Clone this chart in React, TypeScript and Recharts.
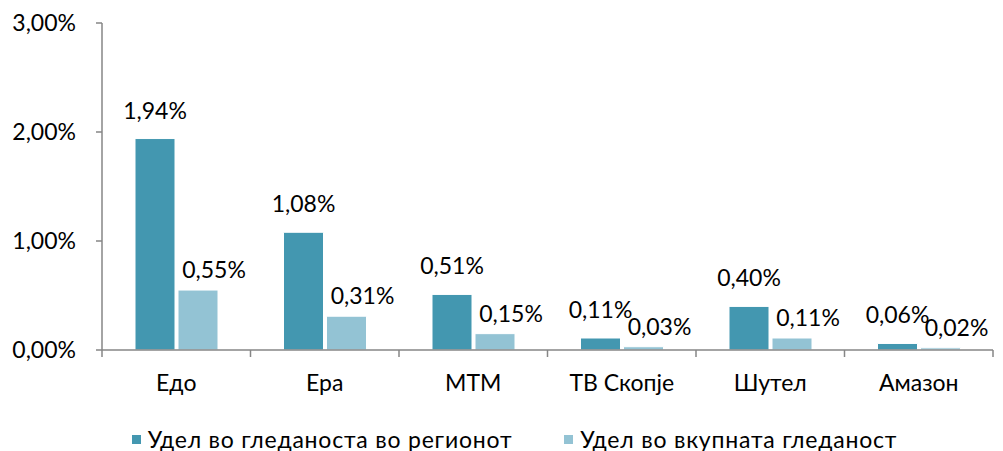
import React from 'react';
import { BarChart, Bar, XAxis, YAxis, Legend, LabelList } from 'recharts';

const categories = ['Едо', 'Ера', 'МТМ', 'ТВ Скопје', 'Шутел', 'Амазон'];
const regionShare = [1.94, 1.08, 0.51, 0.11, 0.4, 0.06];
const totalShare = [0.55, 0.31, 0.15, 0.03, 0.11, 0.02];
const seriesNames = ['Удел во гледаноста во регионот', 'Удел во вкупната гледаност'];
const yTicks = [0, 1, 2, 3];

const data = categories.map((c, i) => ({ name: c, region: regionShare[i], total: totalShare[i] }));

const W = 1003;
const H = 451;
const M = { top: 23, right: 10, left: 12, bottom: 0 };
const YW = 90;
const STEP = (W - M.left - M.right - YW) / categories.length;
const FONT = 'Lato, "Noto Sans", sans-serif';
const FS = 23;
const DARK = '#4397B0';
const LIGHT = '#93C3D4';
const AXIS = '#868686';

const fmt = (v: number) => v.toFixed(2).replace('.', ',') + '%';

const makeLabel = (dx: number, gap: number) => (props: any) => {
  const { x, y, width, value } = props;
  return (
    <text x={Number(x) + Number(width) / 2 + dx} y={Number(y) - gap} textAnchor="middle" fontSize={FS} fontFamily={FONT} fill="#000">
      {fmt(Number(value))}
    </text>
  );
};

const XTick = (props: any) => {
  const { x, y, payload, index } = props;
  return (
    <g>
      {index === 0 && <line x1={x - STEP / 2} x2={x - STEP / 2} y1={y} y2={y + 7} stroke={AXIS} strokeWidth={1.5} />}
      <line x1={x + STEP / 2} x2={x + STEP / 2} y1={y} y2={y + 7} stroke={AXIS} strokeWidth={1.5} />
      <text x={x} y={y + 41} textAnchor="middle" fontSize={FS} fontFamily={FONT} fill="#000">
        {payload.value}
      </text>
    </g>
  );
};

const LegendContent = () => (
  <div style={{ display: 'flex', justifyContent: 'center', paddingTop: 15, paddingLeft: 24, fontFamily: FONT, fontSize: FS, color: '#000', letterSpacing: 0.8 }}>
    {seriesNames.map((n, i) => (
      <div key={n} style={{ display: 'flex', alignItems: 'center', marginRight: i === 0 ? 52 : 0 }}>
        <span style={{ width: 9, height: 9, background: i === 0 ? DARK : LIGHT, display: 'inline-block', marginRight: 7 }} />
        <span>{n}</span>
      </div>
    ))}
  </div>
);

export default function App() {
  return (
    <div style={{ position: 'absolute', left: 0, top: 0, width: W, height: H, background: '#fff' }}>
      <BarChart width={W} height={H} data={data} margin={M} barSize={40} barGap={3}>
        <YAxis
          width={YW}
          domain={[0, 3]}
          ticks={yTicks}
          tickFormatter={(v: number) => fmt(v)}
          axisLine={{ stroke: AXIS, strokeWidth: 1.5 }}
          tickLine={{ stroke: AXIS, strokeWidth: 1.5 }}
          tickSize={6}
          tickMargin={20}
          tick={{ fontSize: FS, fontFamily: FONT, fill: '#000' }}
        />
        <XAxis
          dataKey="name"
          height={60}
          axisLine={{ stroke: AXIS, strokeWidth: 1.5 }}
          tickLine={false}
          tickSize={0}
          tickMargin={0}
          tick={<XTick />}
          interval={0}
        />
        <Legend verticalAlign="bottom" height={41} content={<LegendContent />} />
        <Bar dataKey="region" name={seriesNames[0]} fill={DARK} stroke="#fff" strokeWidth={1} isAnimationActive={false}>
          <LabelList dataKey="region" content={makeLabel(0, 20)} />
        </Bar>
        <Bar dataKey="total" name={seriesNames[1]} fill={LIGHT} stroke="#fff" strokeWidth={1} isAnimationActive={false}>
          <LabelList dataKey="total" content={makeLabel(16, 12)} />
        </Bar>
      </BarChart>
    </div>
  );
}
